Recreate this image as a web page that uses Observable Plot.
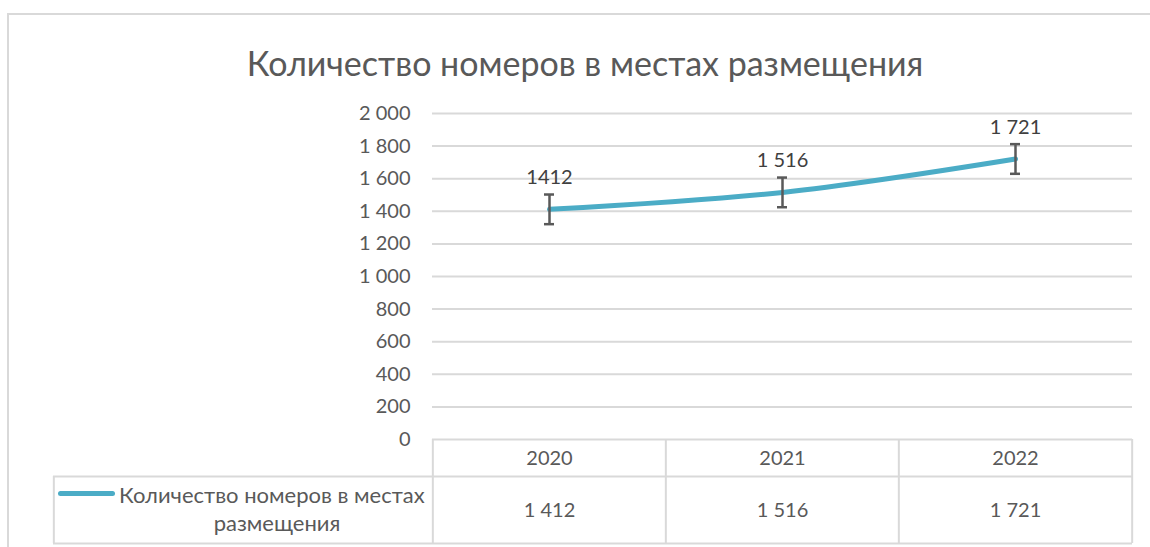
<!DOCTYPE html>
<html>
<head>
<meta charset="utf-8">
<script src="https://cdn.jsdelivr.net/npm/d3@7"></script>
<script src="https://cdn.jsdelivr.net/npm/@observablehq/plot@0.6"></script>
<style>
  html, body { margin: 0; padding: 0; background: #fff; }
  body { width: 1150px; height: 547px; position: relative; overflow: hidden; font-family: Lato, "Open Sans", sans-serif; }
  #frame { position: absolute; left: 7px; top: 13px; width: 1200px; height: 600px; border-left: 2px solid #d9d9d9; border-top: 2px solid #d9d9d9; }
  #title { position: absolute; left: 585px; top: 62px; transform: translate(-50%, -50%); white-space: nowrap; font-size: 34px; color: #595959; }
  #chart { position: absolute; left: 0; top: 0; }
  #key { position: absolute; left: 58px; top: 491px; width: 57px; height: 5px; border-radius: 3px; background: #4bacc6; }
  .leg { position: absolute; font-size: 22px; color: #595959; white-space: nowrap; transform: translateY(-50%); }
</style>
</head>
<body>
<div id="frame"></div>
<div id="title"></div>
<div id="chart"></div>
<div id="key"></div>
<div id="leg1" class="leg" style="left:119px; top:494px;"></div>
<div id="leg2" class="leg" style="left:277px; top:522px; transform: translate(-50%,-50%);"></div>
<script>
const chartTitle = "Количество номеров в местах размещения";
const seriesName1 = "Количество номеров в местах";
const seriesName2 = "размещения";
const years = ["2020", "2021", "2022"];
const values = [1412, 1516, 1721];
const errors = [91, 91, 91];
const pointLabels = ["1412", "1 516", "1 721"];
const tableLabels = ["1 412", "1 516", "1 721"];
const yTicks = [0, 200, 400, 600, 800, 1000, 1200, 1400, 1600, 1800, 2000];
const yTickLabels = ["0", "200", "400", "600", "800", "1 000", "1 200", "1 400", "1 600", "1 800", "2 000"];

document.getElementById("title").textContent = chartTitle;
document.getElementById("leg1").textContent = seriesName1;
document.getElementById("leg2").textContent = seriesName2;

const data = years.map((y, i) => ({year: y, value: values[i], err: errors[i], label: pointLabels[i], tlabel: tableLabels[i]}));

const W = 1150, H = 547;
const mL = 432, mR = 18, mT = 113, mB = 108;
const step = (W - mL - mR) / years.length;
const frameH = H - mT - mB;
const grid = "#d9d9d9";
const txt = "#595959";

const plot = Plot.plot({
  width: W, height: H,
  marginLeft: mL, marginRight: mR, marginTop: mT, marginBottom: mB,
  style: {fontFamily: "Lato, 'Open Sans', sans-serif", background: "transparent", overflow: "visible"},
  x: {type: "point", domain: years, padding: 0.5, axis: null},
  y: {domain: [0, 2000], axis: null},
  marks: [
    Plot.ruleY(yTicks, {stroke: grid, strokeWidth: 2}),
    Plot.axisY(yTicks, {tickSize: 0, tickPadding: 22, tickFormat: d => yTickLabels[yTicks.indexOf(d)], fontSize: 20, fill: txt, label: null}),
    // data table lines
    Plot.ruleY([0], {dy: 37, insetLeft: -(mL - 53), stroke: grid, strokeWidth: 2}),
    Plot.ruleY([0], {dy: 104, insetLeft: -(mL - 53), stroke: grid, strokeWidth: 2}),
    Plot.ruleX(years, {x: d => d, dx: -step / 2, insetTop: frameH, insetBottom: -104, stroke: grid, strokeWidth: 2}),
    Plot.ruleX([years[years.length - 1]], {x: d => d, dx: step / 2, insetTop: frameH, insetBottom: -104, stroke: grid, strokeWidth: 2}),
    Plot.ruleX([years[0]], {x: d => d, dx: -step / 2 - (mL - 53), insetTop: frameH + 37, insetBottom: -104, stroke: grid, strokeWidth: 2}),
    Plot.text(years, {x: d => d, frameAnchor: "bottom", lineAnchor: "middle", dy: 19, text: d => d, fontSize: 20, fill: txt}),
    Plot.text(data, {x: "year", frameAnchor: "bottom", lineAnchor: "middle", dy: 71, text: "tlabel", fontSize: 20, fill: txt}),
    // series
    Plot.line(data, {x: "year", y: "value", stroke: "#4bacc6", strokeWidth: 5, curve: "catmull-rom", strokeLinecap: "round"}),
    Plot.ruleX(data, {x: "year", y1: d => d.value - d.err, y2: d => d.value + d.err, stroke: txt, strokeWidth: 2.5}),
    Plot.ruleY(data, {x1: "year", x2: "year", y: d => d.value - d.err, insetLeft: -5, insetRight: -5, stroke: txt, strokeWidth: 2.5}),
    Plot.ruleY(data, {x1: "year", x2: "year", y: d => d.value + d.err, insetLeft: -5, insetRight: -5, stroke: txt, strokeWidth: 2.5}),
    Plot.text(data, {x: "year", y: d => d.value + d.err, dy: -17, text: "label", fontSize: 20, fill: "#404040"})
  ]
});
document.getElementById("chart").appendChild(plot);
</script>
</body>
</html>
